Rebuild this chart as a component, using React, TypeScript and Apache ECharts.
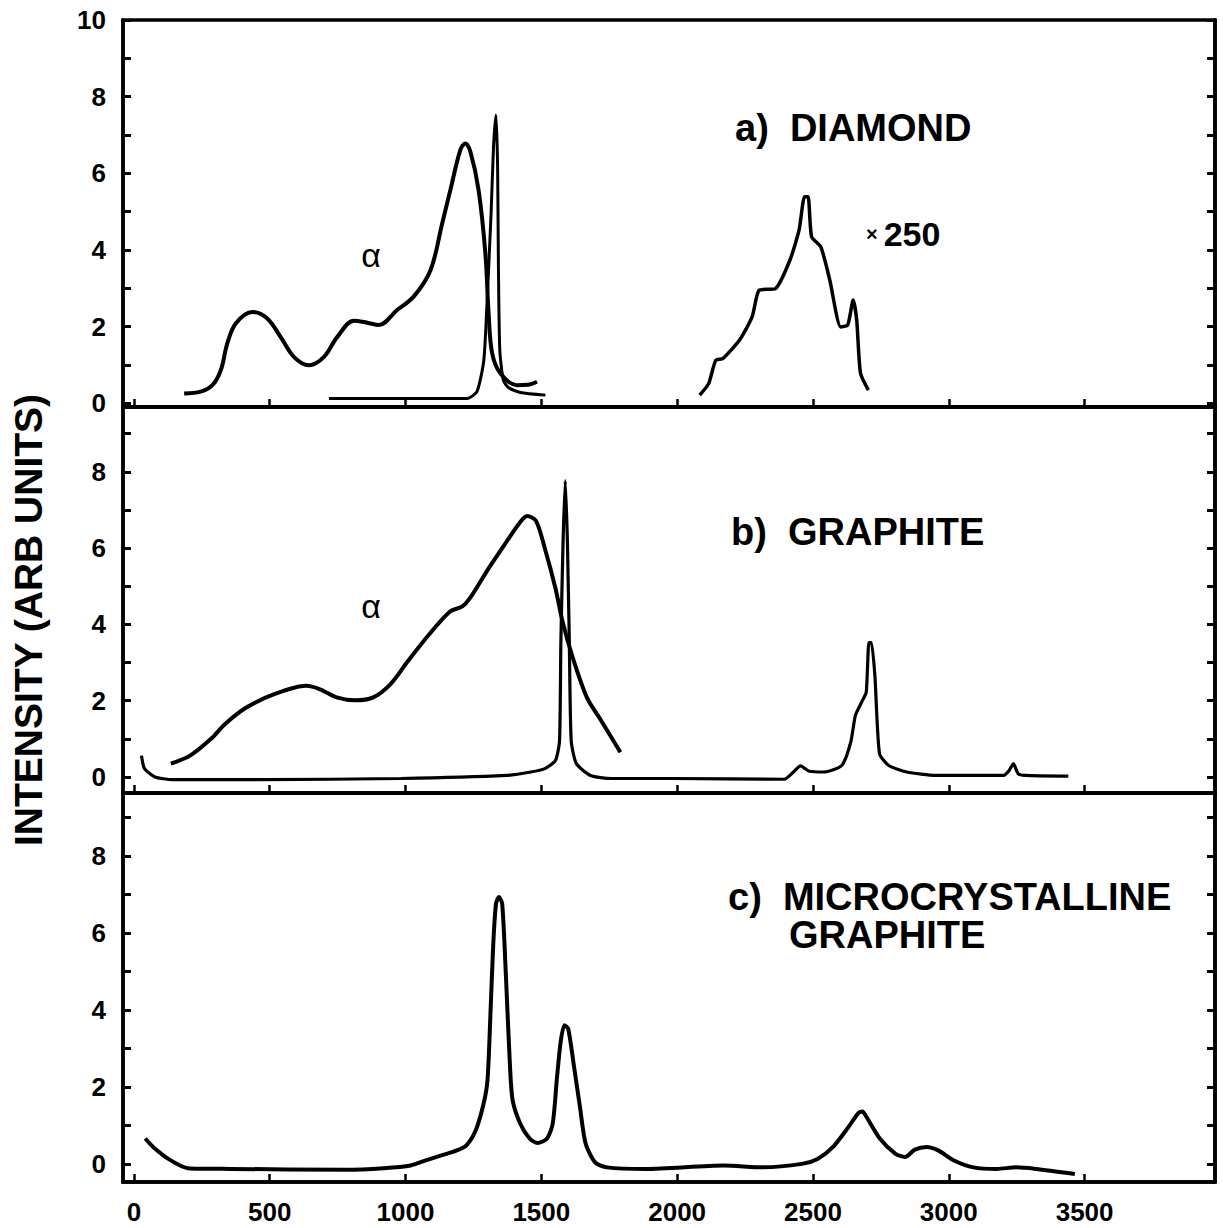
import React, { useEffect, useRef } from "react";
import * as echarts from "echarts";

const FONT = "'Liberation Sans', Arial, Helvetica, sans-serif";

// x tick / label positions (Raman shift, cm^-1)
const xTicks = [0, 500, 1000, 1500, 2000, 2500, 3000, 3500];
const yTicksA = [0, 1, 2, 3, 4, 5, 6, 7, 8, 9, 10];
const yLabelsA = [0, 2, 4, 6, 8, 10];
const yTicksBC = [0, 1, 2, 3, 4, 5, 6, 7, 8, 9];
const yLabelsBC = [0, 2, 4, 6, 8];

// a) DIAMOND — broad alpha (amorphous) band
const diamondAlpha: [number, number][] = [
  [185, 0.25], [246, 0.3], [289, 0.47], [320, 0.86], [344, 1.56], [375, 2.08],
  [436, 2.38], [491, 2.21], [540, 1.73], [589, 1.21], [644, 0.99], [700, 1.21],
  [749, 1.73], [810, 2.15], [859, 2.1], [902, 2.04], [969, 2.43], [1030, 2.78],
  [1092, 3.47], [1135, 4.69], [1165, 5.56], [1202, 6.61], [1220, 6.78],
  [1239, 6.56], [1269, 5.56], [1294, 3.91], [1306, 2.34], [1319, 1.3],
  [1349, 0.78], [1410, 0.47], [1450, 0.48], [1484, 0.56],
];
// a) DIAMOND — first-order line
const diamondLine: [number, number][] = [
  [718, 0.12], [1227, 0.12], [1263, 0.3], [1288, 1.1], [1300, 2.6],
  [1315, 4.95], [1324, 6.69], [1333, 7.52], [1339, 6.2], [1342, 3.6],
  [1347, 1.4], [1360, 0.6], [1380, 0.4], [1423, 0.28], [1515, 0.21],
];
// a) DIAMOND — second-order spectrum (x250)
const diamondSecond: [number, number][] = [
  [2083, 0.21], [2116, 0.51], [2142, 1.12], [2169, 1.17], [2229, 1.64],
  [2276, 2.25], [2302, 2.95], [2362, 2.99], [2415, 3.73], [2449, 4.52],
  [2469, 5.39], [2482, 5.39], [2495, 4.34], [2529, 4.08], [2562, 3.21],
  [2602, 1.99], [2628, 2.04], [2648, 2.69], [2661, 2.17], [2675, 0.78],
  [2704, 0.34],
];
// b) GRAPHITE — broad alpha band
const graphiteAlpha: [number, number][] = [
  [136, 0.35], [207, 0.56], [284, 1.0], [336, 1.39], [414, 1.82], [517, 2.17],
  [634, 2.39], [685, 2.3], [750, 2.08], [815, 2.01], [879, 2.08], [944, 2.43],
  [1009, 3.04], [1086, 3.73], [1164, 4.34], [1209, 4.47], [1241, 4.73],
  [1306, 5.47], [1371, 6.16], [1422, 6.68], [1448, 6.84], [1480, 6.72],
  [1513, 5.99], [1552, 4.95], [1578, 4.08], [1616, 3.12], [1668, 2.08],
  [1720, 1.48], [1791, 0.65],
];
// b) GRAPHITE — crystalline spectrum
const graphiteLine: [number, number][] = [
  [28, 0.56], [39, 0.22], [78, 0.0], [142, -0.07], [465, -0.07], [983, -0.04],
  [1371, 0.04], [1461, 0.13], [1513, 0.22], [1552, 0.43], [1567, 0.95],
  [1572, 3.56], [1580, 6.16], [1588, 7.77], [1596, 6.16], [1603, 3.56],
  [1610, 0.95], [1629, 0.35], [1681, 0.04], [1759, -0.04], [1976, -0.04],
  [2395, -0.06], [2428, 0.13], [2454, 0.29], [2487, 0.15], [2540, 0.13],
  [2606, 0.3], [2639, 0.91], [2656, 1.61], [2679, 1.96], [2696, 2.22],
  [2706, 3.52], [2715, 3.52], [2728, 2.65], [2745, 0.61], [2779, 0.3],
  [2845, 0.13], [2951, 0.04], [3202, 0.04], [3222, 0.17], [3238, 0.35],
  [3255, 0.09], [3281, 0.04], [3440, 0.02],
];
// c) MICROCRYSTALLINE GRAPHITE
const microGraphite: [number, number][] = [
  [42, 0.66], [71, 0.44], [127, 0.13], [198, -0.11], [354, -0.13], [778, -0.15],
  [920, -0.11], [1019, -0.04], [1075, 0.09], [1132, 0.22], [1189, 0.35],
  [1224, 0.48], [1259, 0.88], [1288, 1.58], [1302, 2.19], [1313, 3.95],
  [1323, 5.7], [1333, 6.75], [1344, 6.93], [1356, 6.75], [1370, 4.82],
  [1384, 2.63], [1394, 1.67], [1422, 1.05], [1457, 0.66], [1486, 0.54],
  [1521, 0.66], [1542, 1.05], [1557, 2.19], [1571, 3.16], [1585, 3.6],
  [1599, 3.51], [1620, 2.54], [1642, 1.49], [1663, 0.53], [1698, 0.04],
  [1742, -0.09], [1885, -0.13], [2172, -0.04], [2316, -0.09], [2459, 0.0],
  [2517, 0.13], [2574, 0.44], [2631, 0.96], [2667, 1.32], [2682, 1.36],
  [2696, 1.23], [2746, 0.66], [2804, 0.26], [2839, 0.18], [2875, 0.37],
  [2918, 0.44], [2961, 0.35], [3019, 0.09], [3091, -0.09], [3177, -0.13],
  [3248, -0.09], [3320, -0.13], [3464, -0.26],
];

const panelTitles = ["a)  DIAMOND", "b)  GRAPHITE", "c)  MICROCRYSTALLINE"];
const yTitle = "INTENSITY (ARB UNITS)";

export default function App() {
  const ref = useRef<HTMLDivElement>(null);

  useEffect(() => {
    if (!ref.current) return;
    const chart = echarts.init(ref.current, undefined, { renderer: "svg" });

    const grids = [
      { left: 123, right: 8, top: 20, height: 387 },
      { left: 123, right: 8, top: 407, height: 386 },
      { left: 123, right: 8, top: 793, height: 389 },
    ];
    const yRanges = [
      [-0.1, 10],
      [-0.42, 9.7],
      [-0.47, 9.63],
    ];
    const yTickSets = [yTicksA, yTicksBC, yTicksBC];
    const yLabelSets = [yLabelsA, yLabelsBC, yLabelsBC];

    const lineW = 3.5;
    const xAxes = grids.map((_, i) => ({
      type: "value",
      gridIndex: i,
      min: -40,
      max: 3980,
      axisLine: { show: true, onZero: false, lineStyle: { color: "#000", width: lineW } },
      axisTick: {
        show: true,
        inside: true,
        length: 8,
        customValues: xTicks,
        lineStyle: { color: "#000", width: 2.5 },
      },
      axisLabel: {
        show: i === 2,
        customValues: xTicks,
        formatter: (v: number) => String(v),
        color: "#000",
        fontSize: 26,
        fontWeight: "bold",
        fontFamily: FONT,
        margin: 17,
      },
      splitLine: { show: false },
    }));

    const yAxes: any[] = [];
    grids.forEach((_, i) => {
      yAxes.push({
        type: "value",
        gridIndex: i,
        position: "left",
        min: yRanges[i][0],
        max: yRanges[i][1],
        axisLine: { show: true, onZero: false, lineStyle: { color: "#000", width: lineW } },
        axisTick: {
          show: true,
          inside: true,
          length: 8,
          customValues: yTickSets[i],
          lineStyle: { color: "#000", width: 3 },
        },
        axisLabel: {
          show: true,
          customValues: yLabelSets[i],
          formatter: (v: number) => String(v),
          color: "#000",
          fontSize: 26,
          fontWeight: "bold",
          fontFamily: FONT,
          margin: 17,
        },
        splitLine: { show: false },
      });
      yAxes.push({
        type: "value",
        gridIndex: i,
        position: "right",
        min: yRanges[i][0],
        max: yRanges[i][1],
        axisLine: { show: true, onZero: false, lineStyle: { color: "#000", width: lineW } },
        axisTick: {
          show: true,
          inside: true,
          length: 8,
          customValues: yTickSets[i],
          lineStyle: { color: "#000", width: 3 },
        },
        axisLabel: { show: false },
        splitLine: { show: false },
      });
    });

    const mk = (data: [number, number][], grid: number, width: number, smooth: number) => ({
      type: "line",
      xAxisIndex: grid,
      yAxisIndex: grid * 2,
      data,
      showSymbol: false,
      symbol: "none",
      smooth,
      lineStyle: { color: "#000", width },
      silent: true,
    });

    const series = [
      mk(diamondAlpha, 0, 4, 0.35),
      mk(diamondLine, 0, 3, 0.2),
      mk(diamondSecond, 0, 3.5, 0.2),
      mk(graphiteAlpha, 1, 4, 0.3),
      mk(graphiteLine, 1, 3.2, 0.2),
      mk(microGraphite, 2, 4, 0.25),
    ];

    const titleStyle = {
      fill: "#000",
      font: `bold 38px ${FONT}`,
      textVerticalAlign: "middle",
    };

    chart.setOption({
      animation: false,
      backgroundColor: "#fff",
      grid: grids.map((g) => ({
        ...g,
        show: true,
        borderColor: "#000",
        borderWidth: lineW,
        backgroundColor: "transparent",
      })),
      xAxis: xAxes,
      yAxis: yAxes,
      series,
      graphic: [
        {
          type: "text",
          x: 28,
          y: 620,
          rotation: Math.PI / 2,
          style: {
            text: yTitle,
            fill: "#000",
            font: `bold 39px ${FONT}`,
            textAlign: "center",
            textVerticalAlign: "middle",
          },
        },
        { type: "text", x: 735, y: 128, style: { ...titleStyle, text: panelTitles[0] } },
        { type: "text", x: 731, y: 532, style: { ...titleStyle, text: panelTitles[1] } },
        { type: "text", x: 728, y: 897, style: { ...titleStyle, text: panelTitles[2] } },
        { type: "text", x: 789, y: 935, style: { ...titleStyle, text: "GRAPHITE" } },
        {
          type: "text",
          x: 866,
          y: 234,
          style: {
            text: "{s|×}250",
            fill: "#000",
            font: `bold 34px ${FONT}`,
            textVerticalAlign: "middle",
            rich: { s: { font: `bold 20px ${FONT}`, fill: "#000", padding: [0, 6, 0, 0] } },
          },
        },
        {
          type: "text",
          x: 371,
          y: 255,
          style: {
            text: "α",
            fill: "#000",
            font: `34px ${FONT}`,
            textAlign: "center",
            textVerticalAlign: "middle",
          },
        },
        {
          type: "text",
          x: 371,
          y: 606,
          style: {
            text: "α",
            fill: "#000",
            font: `34px ${FONT}`,
            textAlign: "center",
            textVerticalAlign: "middle",
          },
        },
      ],
    });

    return () => chart.dispose();
  }, []);

  return (
    <div
      ref={ref}
      style={{ position: "fixed", left: 0, top: 0, width: 1223, height: 1228, background: "#fff" }}
    />
  );
}
